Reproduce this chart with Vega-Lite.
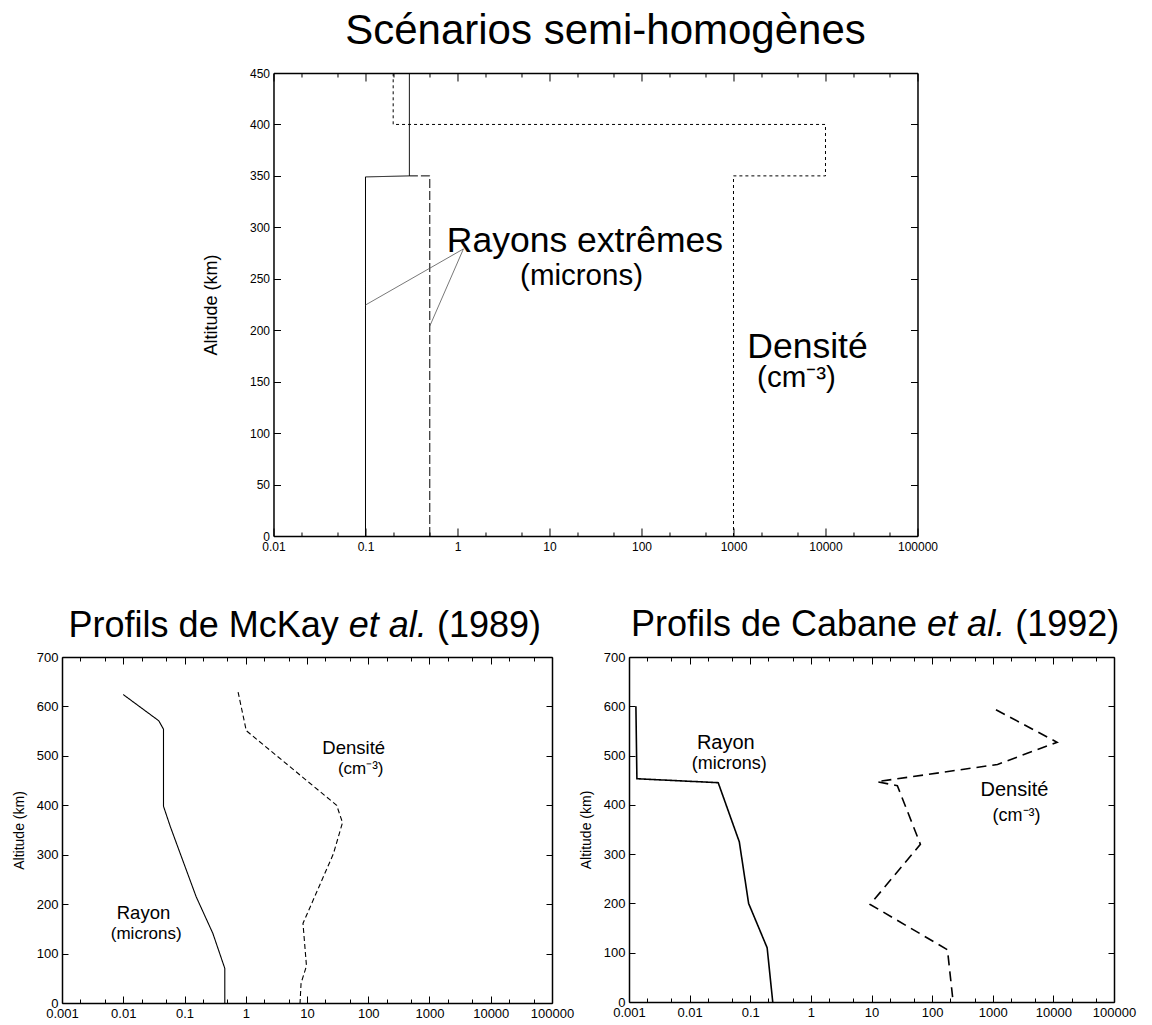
{
  "$schema": "https://vega.github.io/schema/vega-lite/v6.json",
  "padding": {"left": 12, "top": 10, "right": 1, "bottom": 2},
  "config": {
    "font": "Liberation Sans",
    "view": {"stroke": null},
    "axis": {"domainColor": "black", "domainWidth": 1.5, "tickColor": "black", "tickWidth": 1, "labelColor": "black", "labelFont": "Liberation Sans", "titleFont": "Liberation Sans", "titleFontWeight": "normal", "titleColor": "black", "grid": false, "labelOverlap": false, "labelFlush": false},
    "title": {"font": "Liberation Sans", "fontWeight": "normal", "color": "black"},
    "text": {"font": "Liberation Sans", "color": "black"}
  },
  "datasets": {
    "top_lines": [
      {"s": "rmin", "o": 1, "x": 0.1, "alt": 0},
      {"s": "rmin", "o": 2, "x": 0.1, "alt": 349},
      {"s": "rmin", "o": 3, "x": 0.3, "alt": 350},
      {"s": "rmin", "o": 4, "x": 0.3, "alt": 450},
      {"s": "rmax", "o": 1, "x": 0.5, "alt": 0},
      {"s": "rmax", "o": 2, "x": 0.5, "alt": 350},
      {"s": "rmax", "o": 3, "x": 0.3, "alt": 350},
      {"s": "tdens", "o": 1, "x": 1000, "alt": 0},
      {"s": "tdens", "o": 2, "x": 1000, "alt": 350},
      {"s": "tdens", "o": 3, "x": 10000, "alt": 350},
      {"s": "tdens", "o": 4, "x": 10000, "alt": 400},
      {"s": "tdens", "o": 5, "x": 0.2, "alt": 400},
      {"s": "tdens", "o": 6, "x": 0.2, "alt": 450}
    ],
    "top_pointers": [
      {"x": 1.16, "alt": 279, "x2": 0.1, "alt2": 224.5},
      {"x": 1.16, "alt": 279, "x2": 0.5, "alt2": 204}
    ],
    "top_text": [
      {"k": "big", "label": "Rayons extrêmes", "x": 24.3, "alt": 276},
      {"k": "small", "label": "(microns)", "x": 22.3, "alt": 244},
      {"k": "big", "label": "Densité", "x": 6370, "alt": 173},
      {"k": "small", "label": "(cm⁻³)", "x": 4840, "alt": 145}
    ],
    "mckay_lines": [
      {"s": "mrayon", "o": 1, "x": 0.0100, "alt": 624},
      {"s": "mrayon", "o": 2, "x": 0.038, "alt": 571},
      {"s": "mrayon", "o": 3, "x": 0.0454, "alt": 554},
      {"s": "mrayon", "o": 4, "x": 0.0454, "alt": 398},
      {"s": "mrayon", "o": 5, "x": 0.059, "alt": 356},
      {"s": "mrayon", "o": 6, "x": 0.155, "alt": 215},
      {"s": "mrayon", "o": 7, "x": 0.29, "alt": 141},
      {"s": "mrayon", "o": 8, "x": 0.455, "alt": 70},
      {"s": "mrayon", "o": 9, "x": 0.455, "alt": 0},
      {"s": "mdens", "o": 1, "x": 0.75, "alt": 629},
      {"s": "mdens", "o": 2, "x": 1.02, "alt": 551},
      {"s": "mdens", "o": 3, "x": 30.5, "alt": 400},
      {"s": "mdens", "o": 4, "x": 38, "alt": 365},
      {"s": "mdens", "o": 5, "x": 27, "alt": 302},
      {"s": "mdens", "o": 6, "x": 8.6, "alt": 161},
      {"s": "mdens", "o": 7, "x": 9.8, "alt": 75},
      {"s": "mdens", "o": 8, "x": 8.0, "alt": 40},
      {"s": "mdens", "o": 9, "x": 7.7, "alt": 0}
    ],
    "mckay_text": [
      {"k": "big", "label": "Densité", "x": 57.9, "alt": 504},
      {"k": "small", "label": "(cm⁻³)", "x": 75.3, "alt": 463},
      {"k": "big", "label": "Rayon", "x": 0.0214, "alt": 169},
      {"k": "small", "label": "(microns)", "x": 0.0237, "alt": 129},
      {"k": "t1", "label": "Profils de McKay", "x": 32.9, "alt": 740},
      {"k": "t2", "label": "et al.", "x": 48.0, "alt": 740},
      {"k": "t3", "label": "(1989)", "x": 1321, "alt": 740}
    ],
    "cabane_lines": [
      {"s": "crayon", "o": 1, "x": 0.0013, "alt": 600},
      {"s": "crayon", "o": 2, "x": 0.00135, "alt": 453},
      {"s": "crayon", "o": 3, "x": 0.0296, "alt": 445},
      {"s": "crayon", "o": 4, "x": 0.066, "alt": 325},
      {"s": "crayon", "o": 5, "x": 0.094, "alt": 200},
      {"s": "crayon", "o": 6, "x": 0.19, "alt": 110},
      {"s": "crayon", "o": 7, "x": 0.235, "alt": 0},
      {"s": "cdens", "o": 1, "x": 1130, "alt": 593},
      {"s": "cdens", "o": 2, "x": 11500, "alt": 527},
      {"s": "cdens", "o": 3, "x": 1200, "alt": 482},
      {"s": "cdens", "o": 4, "x": 12.3, "alt": 447},
      {"s": "cdens", "o": 5, "x": 26.7, "alt": 439},
      {"s": "cdens", "o": 6, "x": 64, "alt": 320},
      {"s": "cdens", "o": 7, "x": 9.5, "alt": 198},
      {"s": "cdens", "o": 8, "x": 179, "alt": 106},
      {"s": "cdens", "o": 9, "x": 222, "alt": 0}
    ],
    "cabane_text": [
      {"k": "big", "label": "Rayon", "x": 0.0395, "alt": 514},
      {"k": "small", "label": "(microns)", "x": 0.0449, "alt": 472},
      {"k": "big", "label": "Densité", "x": 2281, "alt": 418},
      {"k": "small", "label": "(cm⁻³)", "x": 2466, "alt": 368},
      {"k": "t1", "label": "Profils de Cabane", "x": 56.5, "alt": 742},
      {"k": "t2", "label": "et al.", "x": 82.6, "alt": 742},
      {"k": "t3", "label": "(1992)", "x": 2344, "alt": 742}
    ]
  },
  "center": true,
  "spacing": 51,
  "resolve": {"scale": {"strokeDash": "independent"}},
  "vconcat": [
    {
      "width": 644,
      "height": 463,
      "title": {"text": "Scénarios semi-homogènes", "fontSize": 42, "offset": 14, "frame": "group", "dx": 10},
      "resolve": {"scale": {"x": "independent", "y": "independent"}, "axis": {"x": "independent", "y": "independent"}},
      "layer": [
        {
          "data": {"name": "top_lines"},
          "mark": {"type": "line", "color": "black", "strokeWidth": 1},
          "encoding": {
            "x": {"field": "x", "type": "quantitative", "scale": {"type": "log", "domain": [0.01, 100000], "nice": false},
              "axis": {"title": null, "values": [0.01, 0.02, 0.05, 0.1, 0.2, 0.5, 1, 2, 5, 10, 20, 50, 100, 200, 500, 1000, 2000, 5000, 10000, 20000, 50000, 100000],
                "labelExpr": "abs(log(datum.value)/LN10 - round(log(datum.value)/LN10)) < 0.01 ? format(datum.value, '~g') : ''",
                "tickSize": {"condition": {"test": "abs(log(datum.value)/LN10 - round(log(datum.value)/LN10)) < 0.01", "value": -8}, "value": -4},
                "labelPadding": 13, "labelFontSize": 12}},
            "y": {"field": "alt", "type": "quantitative", "scale": {"domain": [0, 450], "nice": false},
              "axis": {"title": "Altitude (km)", "titleFontSize": 18, "titlePadding": 29, "values": [0, 50, 100, 150, 200, 250, 300, 350, 400, 450], "tickSize": -7, "labelPadding": 11, "labelFontSize": 12}},
            "strokeDash": {"field": "s", "type": "nominal", "scale": {"domain": ["rmin", "rmax", "tdens"], "range": [[1, 0], [9, 3], [3, 3]]}, "legend": null},
            "order": {"field": "o", "type": "quantitative"}
          }
        },
        {
          "data": {"name": "top_text"},
          "transform": [{"filter": "datum.k == 'big'"}],
          "mark": {"type": "text", "fontSize": 35.5, "align": "center", "baseline": "alphabetic"},
          "encoding": {
            "x": {"field": "x", "type": "quantitative", "scale": {"type": "log", "domain": [0.01, 100000], "nice": false},
              "axis": {"orient": "top", "title": null, "labels": false, "values": [0.01, 0.02, 0.05, 0.1, 0.2, 0.5, 1, 2, 5, 10, 20, 50, 100, 200, 500, 1000, 2000, 5000, 10000, 20000, 50000, 100000],
                "tickSize": {"condition": {"test": "abs(log(datum.value)/LN10 - round(log(datum.value)/LN10)) < 0.01", "value": -8}, "value": -4}}},
            "y": {"field": "alt", "type": "quantitative", "scale": {"domain": [0, 450], "nice": false},
              "axis": {"orient": "right", "title": null, "labels": false, "values": [0, 50, 100, 150, 200, 250, 300, 350, 400, 450], "tickSize": -7}},
            "text": {"field": "label"}
          }
        },
        {
          "data": {"name": "top_text"},
          "transform": [{"filter": "datum.k == 'small'"}],
          "mark": {"type": "text", "fontSize": 29.5, "align": "center", "baseline": "alphabetic"},
          "encoding": {
            "x": {"field": "x", "type": "quantitative", "scale": {"type": "log", "domain": [0.01, 100000], "nice": false}, "axis": null},
            "y": {"field": "alt", "type": "quantitative", "scale": {"domain": [0, 450], "nice": false}, "axis": null},
            "text": {"field": "label"}
          }
        },
        {
          "data": {"name": "top_pointers"},
          "mark": {"type": "rule", "color": "#555555", "strokeWidth": 0.8},
          "encoding": {
            "x": {"field": "x", "type": "quantitative", "scale": {"type": "log", "domain": [0.01, 100000], "nice": false}, "axis": null},
            "x2": {"field": "x2"},
            "y": {"field": "alt", "type": "quantitative", "scale": {"domain": [0, 450], "nice": false}, "axis": null},
            "y2": {"field": "alt2"}
          }
        }
      ]
    },
    {
      "spacing": 5,
      "resolve": {"scale": {"strokeDash": "independent"}},
      "hconcat": [
        {
          "width": 490,
          "height": 346,
          "resolve": {"scale": {"x": "independent", "y": "independent"}, "axis": {"x": "independent", "y": "independent"}},
          "layer": [
            {
              "data": {"name": "mckay_lines"},
              "mark": {"type": "line", "color": "black", "strokeWidth": 1.1},
              "encoding": {
                "x": {"field": "x", "type": "quantitative", "scale": {"type": "log", "domain": [0.001, 100000], "nice": false},
                  "axis": {"title": null, "values": [0.001, 0.002, 0.005, 0.01, 0.02, 0.05, 0.1, 0.2, 0.5, 1, 2, 5, 10, 20, 50, 100, 200, 500, 1000, 2000, 5000, 10000, 20000, 50000, 100000],
                    "labelExpr": "abs(log(datum.value)/LN10 - round(log(datum.value)/LN10)) < 0.01 ? format(datum.value, '~g') : ''",
                    "tickSize": {"condition": {"test": "abs(log(datum.value)/LN10 - round(log(datum.value)/LN10)) < 0.01", "value": -7}, "value": -4},
                    "labelPadding": 11, "labelFontSize": 13}},
                "y": {"field": "alt", "type": "quantitative", "scale": {"domain": [0, 700], "nice": false},
                  "axis": {"title": "Altitude (km)", "titleFontSize": 14, "titlePadding": 10, "values": [0, 100, 200, 300, 400, 500, 600, 700], "tickSize": -6, "labelPadding": 10, "labelFontSize": 13}},
                "strokeDash": {"field": "s", "type": "nominal", "scale": {"domain": ["mrayon", "mdens"], "range": [[1, 0], [5, 3]]}, "legend": null},
                "order": {"field": "o", "type": "quantitative"}
              }
            },
            {
              "data": {"name": "mckay_text"},
              "transform": [{"filter": "datum.k == 'big'"}],
              "mark": {"type": "text", "fontSize": 18.5, "align": "center", "baseline": "alphabetic"},
              "encoding": {
                "x": {"field": "x", "type": "quantitative", "scale": {"type": "log", "domain": [0.001, 100000], "nice": false},
                  "axis": {"orient": "top", "title": null, "labels": false, "values": [0.001, 0.002, 0.005, 0.01, 0.02, 0.05, 0.1, 0.2, 0.5, 1, 2, 5, 10, 20, 50, 100, 200, 500, 1000, 2000, 5000, 10000, 20000, 50000, 100000],
                    "tickSize": {"condition": {"test": "abs(log(datum.value)/LN10 - round(log(datum.value)/LN10)) < 0.01", "value": -7}, "value": -4}}},
                "y": {"field": "alt", "type": "quantitative", "scale": {"domain": [0, 700], "nice": false},
                  "axis": {"orient": "right", "title": null, "labels": false, "values": [0, 100, 200, 300, 400, 500, 600, 700], "tickSize": -6}},
                "text": {"field": "label"}
              }
            },
            {
              "data": {"name": "mckay_text"},
              "transform": [{"filter": "datum.k == 'small'"}],
              "mark": {"type": "text", "fontSize": 17, "align": "center", "baseline": "alphabetic"},
              "encoding": {
                "x": {"field": "x", "type": "quantitative", "scale": {"type": "log", "domain": [0.001, 100000], "nice": false}, "axis": null},
                "y": {"field": "alt", "type": "quantitative", "scale": {"domain": [0, 700], "nice": false}, "axis": null},
                "text": {"field": "label"}
              }
            },
            {
              "data": {"name": "mckay_text"},
              "transform": [{"filter": "datum.k == 't1'"}],
              "mark": {"type": "text", "fontSize": 36, "align": "right", "baseline": "alphabetic"},
              "encoding": {
                "x": {"field": "x", "type": "quantitative", "scale": {"type": "log", "domain": [0.001, 100000], "nice": false}, "axis": null},
                "y": {"field": "alt", "type": "quantitative", "scale": {"domain": [0, 700], "nice": false}, "axis": null},
                "text": {"field": "label"}
              }
            },
            {
              "data": {"name": "mckay_text"},
              "transform": [{"filter": "datum.k == 't2'"}],
              "mark": {"type": "text", "fontSize": 36, "fontStyle": "italic", "align": "left", "baseline": "alphabetic"},
              "encoding": {
                "x": {"field": "x", "type": "quantitative", "scale": {"type": "log", "domain": [0.001, 100000], "nice": false}, "axis": null},
                "y": {"field": "alt", "type": "quantitative", "scale": {"domain": [0, 700], "nice": false}, "axis": null},
                "text": {"field": "label"}
              }
            },
            {
              "data": {"name": "mckay_text"},
              "transform": [{"filter": "datum.k == 't3'"}],
              "mark": {"type": "text", "fontSize": 36, "align": "left", "baseline": "alphabetic"},
              "encoding": {
                "x": {"field": "x", "type": "quantitative", "scale": {"type": "log", "domain": [0.001, 100000], "nice": false}, "axis": null},
                "y": {"field": "alt", "type": "quantitative", "scale": {"domain": [0, 700], "nice": false}, "axis": null},
                "text": {"field": "label"}
              }
            }
          ]
        },
        {
          "width": 485,
          "height": 345,
          "resolve": {"scale": {"x": "independent", "y": "independent"}, "axis": {"x": "independent", "y": "independent"}},
          "layer": [
            {
              "data": {"name": "cabane_lines"},
              "mark": {"type": "line", "color": "black", "strokeWidth": 1.6},
              "encoding": {
                "x": {"field": "x", "type": "quantitative", "scale": {"type": "log", "domain": [0.001, 100000], "nice": false},
                  "axis": {"title": null, "values": [0.001, 0.002, 0.005, 0.01, 0.02, 0.05, 0.1, 0.2, 0.5, 1, 2, 5, 10, 20, 50, 100, 200, 500, 1000, 2000, 5000, 10000, 20000, 50000, 100000],
                    "labelExpr": "abs(log(datum.value)/LN10 - round(log(datum.value)/LN10)) < 0.01 ? format(datum.value, '~g') : ''",
                    "tickSize": {"condition": {"test": "abs(log(datum.value)/LN10 - round(log(datum.value)/LN10)) < 0.01", "value": -7}, "value": -4},
                    "labelPadding": 11, "labelFontSize": 13}},
                "y": {"field": "alt", "type": "quantitative", "scale": {"domain": [0, 700], "nice": false},
                  "axis": {"title": "Altitude (km)", "titleFontSize": 14, "titlePadding": 10, "values": [0, 100, 200, 300, 400, 500, 600, 700], "tickSize": -6, "labelPadding": 10, "labelFontSize": 13}},
                "strokeDash": {"field": "s", "type": "nominal", "scale": {"domain": ["crayon", "cdens"], "range": [[1, 0], [10, 6]]}, "legend": null},
                "order": {"field": "o", "type": "quantitative"}
              }
            },
            {
              "data": {"name": "cabane_text"},
              "transform": [{"filter": "datum.k == 'big'"}],
              "mark": {"type": "text", "fontSize": 20, "align": "center", "baseline": "alphabetic"},
              "encoding": {
                "x": {"field": "x", "type": "quantitative", "scale": {"type": "log", "domain": [0.001, 100000], "nice": false},
                  "axis": {"orient": "top", "title": null, "labels": false, "values": [0.001, 0.002, 0.005, 0.01, 0.02, 0.05, 0.1, 0.2, 0.5, 1, 2, 5, 10, 20, 50, 100, 200, 500, 1000, 2000, 5000, 10000, 20000, 50000, 100000],
                    "tickSize": {"condition": {"test": "abs(log(datum.value)/LN10 - round(log(datum.value)/LN10)) < 0.01", "value": -7}, "value": -4}}},
                "y": {"field": "alt", "type": "quantitative", "scale": {"domain": [0, 700], "nice": false},
                  "axis": {"orient": "right", "title": null, "labels": false, "values": [0, 100, 200, 300, 400, 500, 600, 700], "tickSize": -6}},
                "text": {"field": "label"}
              }
            },
            {
              "data": {"name": "cabane_text"},
              "transform": [{"filter": "datum.k == 'small'"}],
              "mark": {"type": "text", "fontSize": 18, "align": "center", "baseline": "alphabetic"},
              "encoding": {
                "x": {"field": "x", "type": "quantitative", "scale": {"type": "log", "domain": [0.001, 100000], "nice": false}, "axis": null},
                "y": {"field": "alt", "type": "quantitative", "scale": {"domain": [0, 700], "nice": false}, "axis": null},
                "text": {"field": "label"}
              }
            },
            {
              "data": {"name": "cabane_text"},
              "transform": [{"filter": "datum.k == 't1'"}],
              "mark": {"type": "text", "fontSize": 36, "align": "right", "baseline": "alphabetic"},
              "encoding": {
                "x": {"field": "x", "type": "quantitative", "scale": {"type": "log", "domain": [0.001, 100000], "nice": false}, "axis": null},
                "y": {"field": "alt", "type": "quantitative", "scale": {"domain": [0, 700], "nice": false}, "axis": null},
                "text": {"field": "label"}
              }
            },
            {
              "data": {"name": "cabane_text"},
              "transform": [{"filter": "datum.k == 't2'"}],
              "mark": {"type": "text", "fontSize": 36, "fontStyle": "italic", "align": "left", "baseline": "alphabetic"},
              "encoding": {
                "x": {"field": "x", "type": "quantitative", "scale": {"type": "log", "domain": [0.001, 100000], "nice": false}, "axis": null},
                "y": {"field": "alt", "type": "quantitative", "scale": {"domain": [0, 700], "nice": false}, "axis": null},
                "text": {"field": "label"}
              }
            },
            {
              "data": {"name": "cabane_text"},
              "transform": [{"filter": "datum.k == 't3'"}],
              "mark": {"type": "text", "fontSize": 36, "align": "left", "baseline": "alphabetic"},
              "encoding": {
                "x": {"field": "x", "type": "quantitative", "scale": {"type": "log", "domain": [0.001, 100000], "nice": false}, "axis": null},
                "y": {"field": "alt", "type": "quantitative", "scale": {"domain": [0, 700], "nice": false}, "axis": null},
                "text": {"field": "label"}
              }
            }
          ]
        },
        {
          "width": 8,
          "height": 10,
          "data": {"values": []},
          "mark": {"type": "point", "opacity": 0},
          "encoding": {}
        }
      ]
    }
  ]
}
